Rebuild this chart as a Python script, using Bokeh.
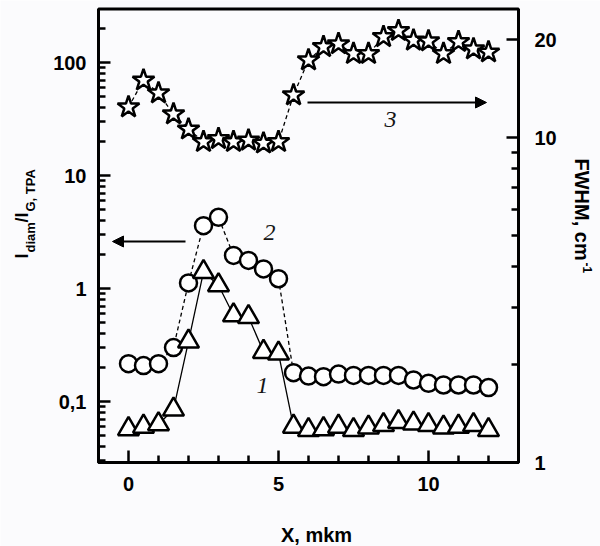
import math
from bokeh.plotting import figure
from bokeh.models import (Range1d, LogAxis, LogScale, FixedTicker, BoxAnnotation,
                          CustomJSTickFormatter, Arrow, NormalHead, Label)
from bokeh.embed import file_html
from bokeh.resources import INLINE

# ---------------- data ----------------
x_um = [0, 0.5, 1, 1.5, 2, 2.5, 3, 3.5, 4, 4.5, 5, 5.5, 6, 6.5, 7, 7.5,
        8, 8.5, 9, 9.5, 10, 10.5, 11, 11.5, 12]
# curve 1 (triangles), I_diam / I_G,TPA
ratio_1 = [0.057, 0.060, 0.063, 0.085, 0.34, 1.40, 1.07, 0.58, 0.56, 0.275,
           0.266, 0.060, 0.056, 0.057, 0.060, 0.056, 0.059, 0.062, 0.066,
           0.064, 0.062, 0.059, 0.060, 0.062, 0.056]
# curve 2 (circles), I_diam / I_G,TPA
ratio_2 = [0.216, 0.208, 0.216, 0.30, 1.12, 3.6, 4.27, 1.96, 1.77, 1.49,
           1.22, 0.18, 0.168, 0.166, 0.175, 0.17, 0.17, 0.17, 0.17, 0.155,
           0.145, 0.14, 0.14, 0.14, 0.133]
# curve 3 (stars), FWHM, cm^-1
fwhm_3 = [12.4, 15.0, 13.7, 11.8, 10.6, 9.7, 9.9, 9.7, 9.8, 9.6, 9.7, 13.5,
          17.3, 19.0, 19.4, 18.1, 18.1, 20.4, 21.3, 19.9, 19.8, 18.1, 19.7,
          18.7, 18.3]

x_lim = [-1, 13]
x_major = [0, 5, 10]
x_minor = [1, 2, 3, 4, 6, 7, 8, 9, 11, 12]
left_major = [0.1, 1, 10, 100]
left_minor = [0.03, 0.04, 0.05, 0.06, 0.07, 0.08, 0.09,
              0.2, 0.3, 0.4, 0.5, 0.6, 0.7, 0.8, 0.9,
              2, 3, 4, 5, 6, 7, 8, 9,
              20, 30, 40, 50, 60, 70, 80, 90, 200]
right_major = [1, 10, 20]
right_minor = [2, 3, 4, 5, 6, 7, 8, 9]

# ---------------- layout (page pixels -> data) ----------------
W, H = 600, 546
BOX_L, BOX_R, BOX_T, BOX_B = 98, 518, 8.5, 462

def px(page_x):
    return -1 + (page_x - BOX_L) / 30.0

def py(page_y):
    return 10 ** (-1 + (401 - page_y) / 113.0)

def py_r(page_y):
    return 10 ** ((BOX_B - page_y) / 325.0)

BG = "#fbfbfd"
FONT = "Liberation Sans"

p = figure(width=W, height=H,
           min_border_left=0, min_border_right=0,
           min_border_top=0, min_border_bottom=0,
           x_range=Range1d(px(0), px(W)), y_range=Range1d(py(H), py(0)),
           y_axis_type="log", output_backend="svg", toolbar_location=None)
p.extra_y_ranges = {"fwhm": Range1d(py_r(H), py_r(0))}
p.extra_y_scales = {"fwhm": LogScale()}

p.background_fill_color = BG
p.border_fill_color = BG
p.outline_line_color = None
p.xgrid.visible = False
p.ygrid.visible = False

y_bot = py(BOX_B)
y_top = py(BOX_T)

right_axis = LogAxis(y_range_name="fwhm")
p.add_layout(right_axis, "right")

def style_axis(ax, standoff):
    ax.axis_line_width = 3
    ax.axis_line_color = "black"
    ax.major_tick_in = 12
    ax.major_tick_out = 0
    ax.minor_tick_in = 7
    ax.minor_tick_out = 0
    ax.major_tick_line_width = 2.5
    ax.minor_tick_line_width = 2.5
    ax.major_tick_line_color = "black"
    ax.minor_tick_line_color = "black"
    ax.major_label_text_font = FONT
    ax.major_label_text_font_style = "bold"
    ax.major_label_text_font_size = "20px"
    ax.major_label_text_color = "black"
    ax.major_label_standoff = standoff

xa = p.xaxis[0]
xa.ticker = FixedTicker(ticks=x_major, minor_ticks=x_minor)
xa.fixed_location = y_bot
xa.bounds = (x_lim[0], x_lim[1])
style_axis(xa, 14)

ya = p.yaxis[0]
ya.ticker = FixedTicker(ticks=left_major, minor_ticks=left_minor)
ya.formatter = CustomJSTickFormatter(
    code="return tick < 1 ? tick.toString().replace('.', ',') : tick.toFixed(0);")
ya.fixed_location = x_lim[0]
ya.bounds = (y_bot, y_top)
style_axis(ya, 12)

right_axis.ticker = FixedTicker(ticks=right_major, minor_ticks=right_minor)
right_axis.formatter = CustomJSTickFormatter(code="return tick.toFixed(0);")
right_axis.fixed_location = x_lim[1]
right_axis.bounds = (1, py_r(BOX_T))
style_axis(right_axis, 16)

# plot box
p.add_layout(BoxAnnotation(left=x_lim[0], right=x_lim[1], bottom=y_bot, top=y_top,
                           fill_color=None, fill_alpha=0, line_color="black",
                           line_width=3, line_alpha=1))

# ---------------- series ----------------
p.line(x_um, ratio_2, line_color="black", line_width=1.3, line_dash="4 3")
p.scatter(x_um, ratio_2, marker="circle", size=17, fill_color="white",
          line_color="black", line_width=2.5)

p.line(x_um, ratio_1, line_color="black", line_width=1.3)
p.scatter(x_um, ratio_1, marker="triangle", size=21, fill_color="white",
          line_color="black", line_width=2.5)

p.line(x_um, fwhm_3, y_range_name="fwhm", line_color="black",
       line_width=1.3, line_dash="4 3")
p.scatter(x_um, fwhm_3, y_range_name="fwhm", marker="star", size=23,
          fill_color="white", line_color="black", line_width=2.5)

# ---------------- arrows ----------------
p.add_layout(Arrow(end=NormalHead(size=11, fill_color="black", line_color="black"),
                   x_start=px(185), y_start=py(241), x_end=px(112), y_end=py(241),
                   line_color="black", line_width=2))
p.add_layout(Arrow(end=NormalHead(size=11, fill_color="black", line_color="black"),
                   x_start=px(307), y_start=py(102), x_end=px(486), y_end=py(102),
                   line_color="black", line_width=2))

# ---------------- curve numbers ----------------
for txt, xx, yy in [("2", px(269), py(232)), ("1", px(262), py(385)),
                    ("3", px(390), py(119))]:
    p.add_layout(Label(x=xx, y=yy, text=txt, text_font="Liberation Serif",
                       text_font_style="italic", text_font_size="24px",
                       text_color="#151515", text_align="center",
                       text_baseline="middle"))

# ---------------- axis titles ----------------
def lab(text, page_x, page_y, size, angle=0.0, align="left"):
    p.add_layout(Label(x=px(page_x), y=py(page_y), text=text, angle=angle,
                       text_font=FONT, text_font_style="bold",
                       text_font_size=size, text_color="black",
                       text_align=align, text_baseline="middle"))

lab("X, mkm", 316, 534, "20px", align="center")

up = math.pi / 2
lab("I", 21, 258, "18px", angle=up)
lab("diam", 30, 252, "13px", angle=up)
lab("/I", 21, 222, "18px", angle=up)
lab("G, TPA", 30, 211, "13px", angle=up)

lab("FWHM, cm", 581, 158, "20px", angle=-up)
lab("-1", 587, 262, "12px", angle=-up)

open("out.html", "w").write(file_html(p, INLINE))
